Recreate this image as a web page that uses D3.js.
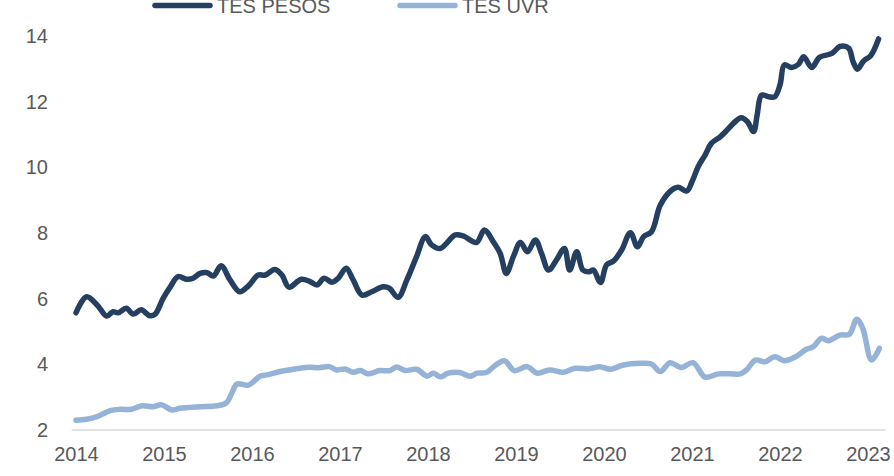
<!DOCTYPE html>
<html>
<head>
<meta charset="utf-8">
<script src="https://cdn.jsdelivr.net/npm/d3@7"></script>
<style>
    body { margin: 0; background: #fff; }
    svg text { font-family: "Liberation Sans", Arial, sans-serif; fill: #595959; }
</style>
</head>
<body>
<div id="chart"></div>
<script>
// decimal years and values
const pesosT = [2014.00, 2014.12, 2014.24, 2014.35, 2014.42, 2014.48, 2014.57, 2014.65, 2014.74, 2014.84,
    2014.90, 2014.99, 2015.07, 2015.16, 2015.26, 2015.33, 2015.41, 2015.49, 2015.56, 2015.65,
    2015.75, 2015.86, 2015.96, 2016.07, 2016.15, 2016.26, 2016.34, 2016.42, 2016.56, 2016.66,
    2016.74, 2016.82, 2016.91, 2016.98, 2017.07, 2017.15, 2017.25, 2017.36, 2017.49, 2017.56,
    2017.66, 2017.76, 2017.87, 2017.97, 2018.04, 2018.14, 2018.31, 2018.40, 2018.55, 2018.64,
    2018.74, 2018.82, 2018.89, 2018.97, 2019.05, 2019.13, 2019.22, 2019.29, 2019.37, 2019.46,
    2019.55, 2019.61, 2019.69, 2019.76, 2019.83, 2019.88, 2019.96, 2020.03, 2020.11, 2020.20,
    2020.30, 2020.38, 2020.45, 2020.54, 2020.64, 2020.75, 2020.84, 2020.94, 2021.00, 2021.07,
    2021.15, 2021.22, 2021.32, 2021.39, 2021.47, 2021.56, 2021.63, 2021.70, 2021.74, 2021.79,
    2021.87, 2021.94, 2022.00, 2022.05, 2022.13, 2022.21, 2022.27, 2022.36, 2022.45, 2022.59,
    2022.68, 2022.78, 2022.83, 2022.88, 2022.95, 2023.03, 2023.12];
const pesosV = [5.57, 6.06, 5.81, 5.47, 5.60, 5.57, 5.71, 5.53, 5.66, 5.48,
    5.53, 6.01, 6.35, 6.67, 6.59, 6.62, 6.77, 6.79, 6.69, 7.00,
    6.57, 6.21, 6.39, 6.72, 6.72, 6.89, 6.72, 6.35, 6.59, 6.52,
    6.42, 6.62, 6.50, 6.62, 6.93, 6.57, 6.11, 6.21, 6.36, 6.32,
    6.04, 6.57, 7.28, 7.89, 7.64, 7.53, 7.94, 7.91, 7.71, 8.09,
    7.74, 7.38, 6.77, 7.28, 7.71, 7.43, 7.79, 7.38, 6.87, 7.18,
    7.53, 6.87, 7.43, 6.87, 6.82, 6.87, 6.49, 7.03, 7.15, 7.48,
    8.01, 7.58, 7.89, 8.04, 8.85, 9.26, 9.39, 9.28, 9.56, 10.02,
    10.38, 10.73, 10.93, 11.11, 11.34, 11.51, 11.39, 11.09, 11.59, 12.20,
    12.15, 12.15, 12.51, 13.12, 13.04, 13.14, 13.37, 13.04, 13.35, 13.47,
    13.68, 13.63, 13.22, 12.99, 13.24, 13.40, 13.91];

const uvrT = [2014.00, 2014.12, 2014.24, 2014.39, 2014.50, 2014.63, 2014.75, 2014.88, 2014.97, 2015.09,
    2015.18, 2015.41, 2015.60, 2015.71, 2015.77, 2015.83, 2015.96, 2016.09, 2016.17, 2016.32,
    2016.47, 2016.64, 2016.77, 2016.88, 2016.96, 2017.06, 2017.15, 2017.23, 2017.32, 2017.45,
    2017.57, 2017.64, 2017.74, 2017.87, 2017.99, 2018.06, 2018.14, 2018.23, 2018.36, 2018.48,
    2018.56, 2018.66, 2018.77, 2018.87, 2018.98, 2019.13, 2019.24, 2019.38, 2019.54, 2019.67,
    2019.82, 2019.95, 2020.07, 2020.22, 2020.41, 2020.54, 2020.64, 2020.75, 2020.88, 2021.01,
    2021.15, 2021.30, 2021.43, 2021.55, 2021.62, 2021.72, 2021.83, 2021.94, 2022.05, 2022.19,
    2022.30, 2022.38, 2022.47, 2022.55, 2022.68, 2022.79, 2022.87, 2022.94, 2023.04, 2023.13];
const uvrV = [2.30, 2.33, 2.41, 2.59, 2.63, 2.63, 2.74, 2.71, 2.77, 2.61,
    2.66, 2.71, 2.74, 2.83, 3.12, 3.40, 3.37, 3.64, 3.68, 3.78,
    3.85, 3.91, 3.90, 3.93, 3.83, 3.86, 3.76, 3.81, 3.71, 3.81,
    3.81, 3.92, 3.81, 3.85, 3.64, 3.73, 3.62, 3.73, 3.75, 3.64,
    3.73, 3.75, 3.98, 4.11, 3.81, 3.93, 3.73, 3.83, 3.76, 3.88,
    3.86, 3.93, 3.85, 3.98, 4.03, 4.01, 3.78, 4.05, 3.90, 4.05,
    3.61, 3.71, 3.71, 3.71, 3.83, 4.13, 4.08, 4.23, 4.11, 4.25,
    4.46, 4.54, 4.79, 4.72, 4.89, 4.92, 5.37, 5.10, 4.13, 4.49];

const years = [2014, 2015, 2016, 2017, 2018, 2019, 2020, 2021, 2022, 2023];
const yTicks = [2, 4, 6, 8, 10, 12, 14];

const series = [
    { name: "TES PESOS", color: "#243f60", t: pesosT, v: pesosV },
    { name: "TES UVR", color: "#95b3d7", t: uvrT, v: uvrV }
];

const width = 894, height = 476;
const svg = d3.select("#chart").append("svg")
    .attr("width", width)
    .attr("height", height);

let x = d3.scaleLinear().domain([2014, 2023]).range([76, 868]);
let y = d3.scaleLinear().domain([2, 14]).range([430, 36]);

// baseline
svg.append("line")
    .attr("x1", x(2013.95))
    .attr("x2", x(2023.2))
    .attr("y1", y(2))
    .attr("y2", y(2))
    .attr("stroke", "#d9d9d9")
    .attr("stroke-width", 1.5);

// y axis labels
let yAxis = svg.append("g")
    .attr("transform", "translate(48,0)")
    .call(d3.axisLeft(y).tickValues(yTicks).tickSize(0).tickPadding(0).tickFormat(d3.format("d")));
yAxis.select(".domain").remove();
yAxis.selectAll("text").style("font-size", "20px").attr("fill", "#595959");

// x axis labels
let xAxis = svg.append("g")
    .attr("transform", "translate(0," + y(2) + ")")
    .call(d3.axisBottom(x).tickValues(years).tickSize(0).tickPadding(17).tickFormat(d3.format("d")));
xAxis.select(".domain").remove();
xAxis.selectAll("text").style("font-size", "20px").attr("fill", "#595959");

// lines
const line = d3.line()
    .x(d => x(d[0]))
    .y(d => y(d[1]))
    .curve(d3.curveCatmullRom.alpha(0.5));

for (const s of series.slice().reverse()) {
    let pts = s.t.map((t, i) => [t, s.v[i]]);
    svg.append("path")
        .datum(pts)
        .attr("fill", "none")
        .attr("stroke", s.color)
        .attr("stroke-width", 5.5)
        .attr("stroke-linecap", "round")
        .attr("stroke-linejoin", "round")
        .attr("d", line);
}

// legend (partly cut off at the top)
const legendX = [155, 400];
series.forEach((s, i) => {
    let g = svg.append("g").attr("transform", `translate(${legendX[i]},5.5)`);
    g.append("line")
        .attr("x1", 0).attr("x2", 55)
        .attr("stroke", s.color)
        .attr("stroke-width", 5.5)
        .attr("stroke-linecap", "round");
    g.append("text")
        .attr("x", 62)
        .attr("y", 7.5)
        .style("font-size", "20px")
        .text(s.name);
});
</script>
</body>
</html>
